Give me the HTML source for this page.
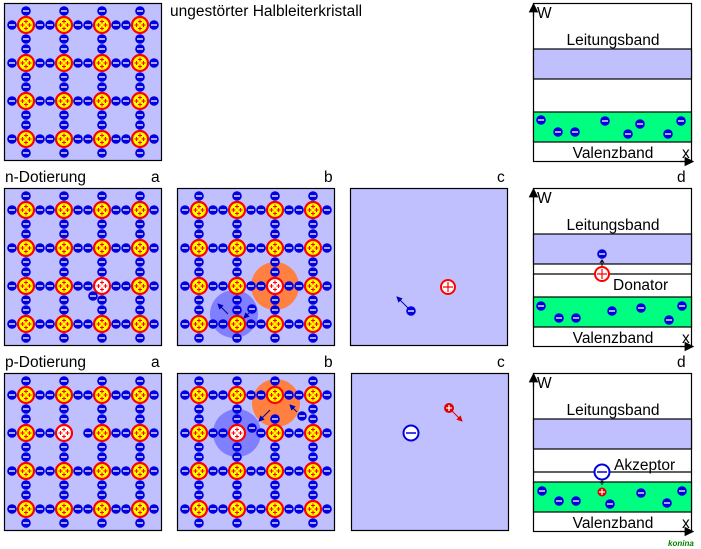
<!DOCTYPE html>
<html><head><meta charset="utf-8"><style>
body{margin:0;background:#fff;}
svg{display:block;font-family:"Liberation Sans",sans-serif;}
</style></head><body>
<svg id="s" width="701" height="549" viewBox="0 0 701 549" xmlns="http://www.w3.org/2000/svg">
<defs>
<marker id="ab" markerWidth="6" markerHeight="6" refX="5" refY="3" orient="auto"><path d="M0,0L6,3L0,6z" fill="#0000c0"/></marker>
<marker id="ar" markerWidth="6" markerHeight="6" refX="5" refY="3" orient="auto"><path d="M0,0L6,3L0,6z" fill="#e00000"/></marker>
<marker id="ak" markerWidth="8" markerHeight="8" refX="7" refY="4" orient="auto"><path d="M0,0L8,4L0,8z" fill="#000"/></marker>
</defs>
<g id="bg"></g>
<g id="fx"></g>
<g id="lat"></g>
<g id="top"></g>
<g font-size="15.5" fill="#000">
<text x="170" y="16">ungestörter Halbleiterkristall</text>
<text x="5" y="182">n-Dotierung</text>
<text x="151" y="182">a</text><text x="324" y="182">b</text><text x="497" y="182">c</text><text x="677" y="182">d</text>
<text x="5" y="367">p-Dotierung</text>
<text x="151" y="367">a</text><text x="324" y="367">b</text><text x="497" y="367">c</text><text x="677" y="367">d</text>
</g>
<text x="668" y="546" font-size="8" font-style="italic" font-weight="bold" fill="#008000">konina</text>
</svg>
<script>
const NS="http://www.w3.org/2000/svg";
function el(p,t,a){const e=document.createElementNS(NS,t);for(const k in a)e.setAttribute(k,a[k]);document.getElementById(p).appendChild(e);return e;}
function elec(p,x,y){el(p,'circle',{cx:x,cy:y,r:4.8,fill:'#0000e0'});el(p,'line',{x1:x-3,y1:y,x2:x+3,y2:y,stroke:'#fff','stroke-width':1.3});}
function nuc(p,x,y,white){el(p,'circle',{cx:x,cy:y,r:8,fill:white?'#fff':'#ffff00',stroke:'#f00','stroke-width':2.2});
 [[0,-3.5],[-3.5,0],[3.5,0],[0,3.5]].forEach(([dx,dy])=>{el(p,'path',{d:`M${x+dx-2},${y+dy}h4M${x+dx},${y+dy-2}v4`,stroke:'#f00','stroke-width':1.1});});}
function panel(x,y){el('bg','rect',{x:x+.5,y:y+.5,width:157,height:157,fill:'#c0c0ff',stroke:'#000','stroke-width':1.2});}
function lattice(x0,y0,opts){opts=opts||{};
 const skip=opts.skip||[];
 for(let i=0;i<4;i++)for(let j=0;j<4;j++){const x=x0+22+38*i,y=y0+22+38*j;
  const w=(opts.white&&opts.white[0]==i&&opts.white[1]==j);
  nuc('lat',x,y,w);
  [[-14,0],[14,0],[0,-14],[0,14]].forEach(([dx,dy])=>{const ex=x+dx,ey=y+dy;
   if(skip.some(s=>Math.abs(s[0]-ex)<1&&Math.abs(s[1]-ey)<1))return; elec('lat',ex,ey);});}}
panel(4,3);lattice(4,3);
panel(4,188);lattice(4,188,{white:[2,2]});elec('top',93,296);
panel(177,188);
el('fx','circle',{cx:275,cy:286,r:24,fill:'#ff8040'});
el('fx','circle',{cx:234,cy:314,r:24,fill:'#8080ff'});
lattice(177,188,{white:[2,2]});elec('top',252,309);
el('top','line',{x1:228,y1:314,x2:218,y2:304,stroke:'#000080','stroke-width':1,'marker-end':'url(#ab)'});
el('top','line',{x1:249,y1:313,x2:244,y2:318,stroke:'#000080','stroke-width':1,'marker-end':'url(#ab)'});
panel(350,188);
el('top','circle',{cx:448,cy:287,r:7,fill:'#fff',stroke:'#f00','stroke-width':2});
el('top','path',{d:'M443,287h10M448,282v10',stroke:'#f00','stroke-width':1.2});
elec('top',411,311);
el('top','line',{x1:408,y1:308,x2:397,y2:297,stroke:'#0000c0','stroke-width':1,'marker-end':'url(#ab)'});
panel(4,373);lattice(4,373,{white:[1,1],skip:[[78,433]]});
panel(177,373);
el('fx','circle',{cx:237,cy:433,r:24,fill:'#8080ff'});
el('fx','circle',{cx:276,cy:403,r:24,fill:'#ff8040'});
lattice(177,373,{white:[1,1],skip:[[251,433],[275,409]]});
elec('top',252,428);elec('top',302,416);
el('top','line',{x1:270,y1:410,x2:259,y2:421,stroke:'#000080','stroke-width':1,'marker-end':'url(#ab)'});
el('top','line',{x1:297,y1:412,x2:290,y2:405,stroke:'#000080','stroke-width':1,'marker-end':'url(#ab)'});
panel(351,373);
el('top','circle',{cx:411,cy:433,r:7.5,fill:'#fff',stroke:'#0000e0','stroke-width':2});
el('top','line',{x1:406,y1:433,x2:416,y2:433,stroke:'#0000e0','stroke-width':1.5});
el('top','circle',{cx:449,cy:408,r:5,fill:'#e00000'});
el('top','path',{d:'M446,408h6M449,405v6',stroke:'#fff','stroke-width':1.3});
el('top','line',{x1:452,y1:411,x2:462,y2:421,stroke:'#e00000','stroke-width':1,'marker-end':'url(#ar)'});
function band(y0,blue,green,els,extraLine){
 const x0=533.5,x1=691.5;
 el('bg','rect',{x:x0,y:y0+.5,width:158,height:158,fill:'#fff',stroke:'#000','stroke-width':1.2});
 el('bg','rect',{x:x0,y:blue[0],width:158,height:blue[1]-blue[0],fill:'#c0c0ff',stroke:'#000','stroke-width':1.2});
 el('bg','rect',{x:x0,y:green[0],width:158,height:green[1]-green[0],fill:'#00ff80',stroke:'#000','stroke-width':1.2});
 if(extraLine)el('bg','line',{x1:x0,y1:extraLine,x2:x1,y2:extraLine,stroke:'#000','stroke-width':1.2});
 el('top','line',{x1:x0,y1:y0+14,x2:x0,y2:y0+1,stroke:'#000','stroke-width':1.2,'marker-end':'url(#ak)'});
 el('top','line',{x1:680,y1:y0+158.5,x2:693,y2:y0+158.5,stroke:'#000','stroke-width':1.2,'marker-end':'url(#ak)'});
 const t=(x,y,s,a)=>{const e=el('top','text',{x:x,y:y,'font-size':15.5,'text-anchor':a||'start'});e.textContent=s;};
 t(537,y0+15,'W');t(613,y0+42,'Leitungsband','middle');t(613,y0+155,'Valenzband','middle');t(682,y0+155,'x');
 els.forEach(([x,y])=>elec('top',x,y));
}
band(3,[49,79],[112,142],[[541,120],[558,132],[575,132],[605,121],[628,134],[640,124],[668,134],[681,121]]);
band(188,[234,264],[297,327],[[541,306],[559,318],[576,318],[612,311],[641,308],[669,320],[682,306]],274);
el('top','text',{x:613,y:290,'font-size':15.5}).textContent='Donator';
el('top','circle',{cx:602,cy:274,r:7,fill:'#fff',stroke:'#f00','stroke-width':2});
el('top','path',{d:'M597,274h10M602,269v10',stroke:'#f00','stroke-width':1.2});
elec('top',602,254);
el('top','path',{d:'M602,266v-5M600,263l2,-3l2,3',stroke:'#000','stroke-width':1,fill:'none'});
band(373,[419,449],[482,512],[[542,491],[559,501],[576,501],[610,504],[641,493],[667,503],[682,491]],472);
el('top','text',{x:614,y:470,'font-size':15.5}).textContent='Akzeptor';
el('top','circle',{cx:602,cy:472,r:7.5,fill:'#fff',stroke:'#0000e0','stroke-width':2});
el('top','line',{x1:597,y1:472,x2:607,y2:472,stroke:'#0000e0','stroke-width':1.5});
el('top','circle',{cx:602,cy:492,r:4.5,fill:'#e00000'});
el('top','path',{d:'M599,492h6M602,489v6',stroke:'#fff','stroke-width':1.2});
el('top','path',{d:'M602,482v3M600,483l2,-2l2,2',stroke:'#000','stroke-width':1,fill:'none'});
</script>
</body></html>
